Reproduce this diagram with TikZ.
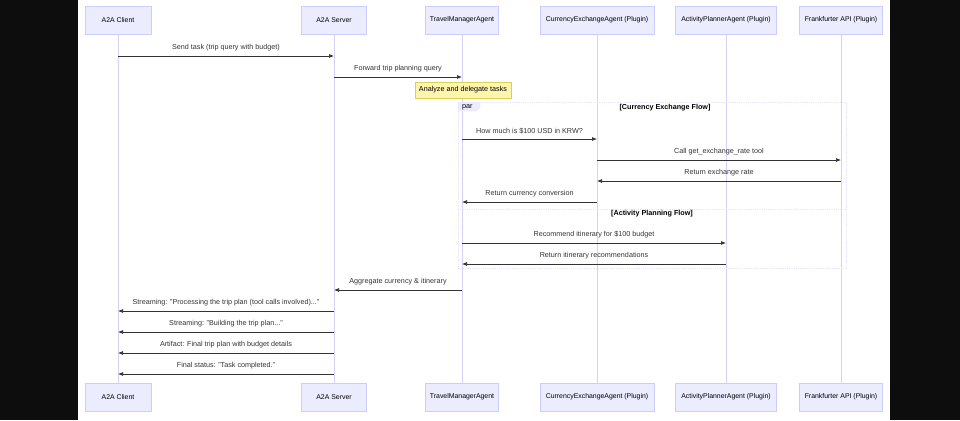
\documentclass[tikz,border=0pt]{standalone}
\usepackage{fontspec}
\setmainfont{Liberation Sans}
\usetikzlibrary{arrows.meta}
\definecolor{actfill}{HTML}{ECECFF}
\definecolor{actline}{HTML}{CCCCFF}
\definecolor{lifeline}{HTML}{D9D0F5}
\definecolor{notefill}{HTML}{FFF5AD}
\definecolor{noteline}{HTML}{D8D05A}
\definecolor{msgline}{HTML}{333333}
\begin{document}
\begin{tikzpicture}[x=1pt,y=-1pt,font=\fontsize{7.2}{8.5}\selectfont]
  \tikzset{actor/.style = {draw=actline,fill=actfill,minimum height=28pt,inner sep=0pt,font=\fontsize{6.9}{8}\selectfont}}
  \tikzset{life/.style = {draw=lifeline,line width=0.9pt}}
  \tikzset{msg/.style = {draw=msgline,line width=0.7pt,-{Latex[length=5pt,width=4pt]}}}
  \tikzset{lbl/.style = {above=1pt,text=black!80}}
  \useasboundingbox (0,0) rectangle (960,420);
  \fill[black!95] (0,0) rectangle (78,420);
  \fill[black!95] (890,0) rectangle (960,420);

  % participants, top and bottom
  \node[actor,minimum width=66pt] (c1) at (118,20) {A2A Client};
  \node[actor,minimum width=65pt] (s1) at (334,20) {A2A Server};
  \node[actor,minimum width=73pt] (t1) at (462,20) {TravelManagerAgent};
  \node[actor,minimum width=114pt] (x1) at (597,20) {CurrencyExchangeAgent (Plugin)};
  \node[actor,minimum width=101pt] (p1) at (726,20) {ActivityPlannerAgent (Plugin)};
  \node[actor,minimum width=83pt] (f1) at (841,20) {Frankfurter API (Plugin)};
  \node[actor,minimum width=66pt] (c2) at (118,397) {A2A Client};
  \node[actor,minimum width=65pt] (s2) at (334,397) {A2A Server};
  \node[actor,minimum width=73pt] (t2) at (462,397) {TravelManagerAgent};
  \node[actor,minimum width=114pt] (x2) at (597,397) {CurrencyExchangeAgent (Plugin)};
  \node[actor,minimum width=101pt] (p2) at (726,397) {ActivityPlannerAgent (Plugin)};
  \node[actor,minimum width=83pt] (f2) at (841,397) {Frankfurter API (Plugin)};

  % lifelines
  \draw[life] (c1) -- (c2);
  \draw[life] (s1) -- (s2);
  \draw[life] (t1) -- (t2);
  \draw[life] (x1) -- (x2);
  \draw[life] (p1) -- (p2);
  \draw[life] (f1) -- (f2);

  % note and par frame
  \node[draw=noteline,fill=notefill,minimum width=96pt,minimum height=16pt,inner sep=0pt] (note) at (463,90) {Analyze and delegate tasks};
  \draw[lifeline!60,densely dotted,line width=0.8pt] (458,102) rectangle (846,268);
  \draw[lifeline!60,densely dotted,line width=0.8pt] (458,209) -- (846,209);
  \filldraw[draw=lifeline!60,fill=actfill] (458,102) -- (480,102) -- (480,107) -- (476,111) -- (458,111) -- cycle;
  \node[anchor=west,inner sep=0pt] (par) at (462,107) {par};
  \node[font=\fontsize{7.2}{8.5}\selectfont\bfseries] (flow1) at (665,108) {[Currency Exchange Flow]};
  \node[font=\fontsize{7.2}{8.5}\selectfont\bfseries] (flow2) at (652,214) {[Activity Planning Flow]};

  % messages
  \draw[msg] (c1 |- 0,56) -- node[lbl] {Send task (trip query with budget)} (s1 |- 0,56);
  \draw[msg] (s1 |- 0,77) -- node[lbl] {Forward trip planning query} (t1 |- 0,77);
  \draw[msg] (t1 |- 0,139) -- node[lbl] {How much is \$100 USD in KRW?} (x1 |- 0,139);
  \draw[msg] (x1 |- 0,160) -- node[lbl] {Call get\_exchange\_rate tool} (f1 |- 0,160);
  \draw[msg] (f1 |- 0,181) -- node[lbl] {Return exchange rate} (x1 |- 0,181);
  \draw[msg] (x1 |- 0,202) -- node[lbl] {Return currency conversion} (t1 |- 0,202);
  \draw[msg] (t1 |- 0,243) -- node[lbl] {Recommend itinerary for \$100 budget} (p1 |- 0,243);
  \draw[msg] (p1 |- 0,264) -- node[lbl] {Return itinerary recommendations} (t1 |- 0,264);
  \draw[msg] (t1 |- 0,290) -- node[lbl] {Aggregate currency \& itinerary} (s1 |- 0,290);
  \draw[msg] (s1 |- 0,311) -- node[lbl] {Streaming: "Processing the trip plan (tool calls involved)..."} (c1 |- 0,311);
  \draw[msg] (s1 |- 0,332) -- node[lbl] {Streaming: "Building the trip plan..."} (c1 |- 0,332);
  \draw[msg] (s1 |- 0,353) -- node[lbl] {Artifact: Final trip plan with budget details} (c1 |- 0,353);
  \draw[msg] (s1 |- 0,374) -- node[lbl] {Final status: "Task completed."} (c1 |- 0,374);
\end{tikzpicture}
\end{document}
